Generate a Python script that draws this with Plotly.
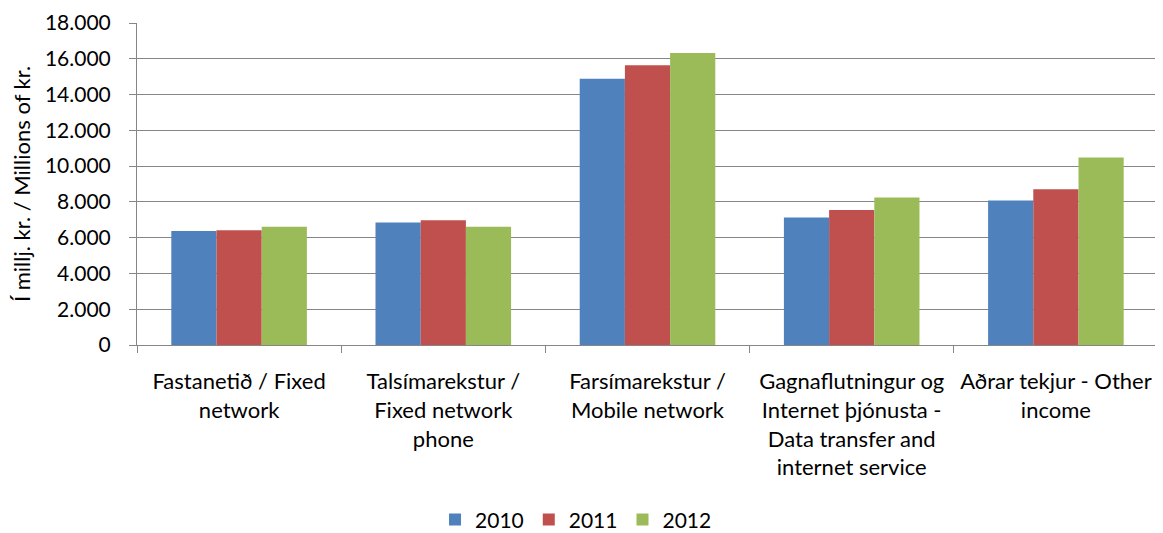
import plotly.graph_objects as go

categories = [
    "Fastanetið / Fixed<br>network",
    "Talsímarekstur /<br>Fixed network<br>phone",
    "Farsímarekstur /<br>Mobile network",
    "Gagnaflutningur og<br>Internet þjónusta -<br>Data transfer and<br>internet service",
    "Aðrar tekjur - Other<br>income",
]
years = ["2010", "2011", "2012"]
v2010 = [6370, 6850, 14890, 7130, 8080]
v2011 = [6420, 6980, 15640, 7540, 8700]
v2012 = [6610, 6610, 16320, 8250, 10480]
colors = ["#4F81BD", "#C0504D", "#9BBB59"]
tickvals = [0, 2000, 4000, 6000, 8000, 10000, 12000, 14000, 16000, 18000]

FONT = "Lato"
fig = go.Figure()
for name, vals, c in zip(years, [v2010, v2011, v2012], colors):
    fig.add_trace(go.Bar(x=categories, y=vals, name=name, marker_color=c,
                         marker_line_width=0))

fig.update_layout(
    width=1155, height=525,
    margin=dict(l=129, r=5, t=15, b=188, autoexpand=False),
    paper_bgcolor="white", plot_bgcolor="white",
    separators=",.",
    barmode="group", bargap=0.336, bargroupgap=0,
    font=dict(family=FONT, size=21, color="#000000"),
    showlegend=True,
    legend=dict(orientation="h", x=0.43, xanchor="center",
                yref="container", y=0.025, yanchor="middle",
                font=dict(size=21), itemwidth=30, traceorder="normal"),
    yaxis=dict(
        range=[0, 18000], tickvals=tickvals, tickformat=",",
        showgrid=True, gridcolor="#868686", gridwidth=1,
        showline=True, linecolor="#868686", linewidth=1,
        ticks="outside", ticklen=7, tickcolor="#868686",
        zeroline=False, automargin=False,
        tickfont=dict(size=21), ticklabelstandoff=14,
        title=dict(text="Í millj. kr. / Millions of kr.", font=dict(size=22), standoff=14),
    ),
    xaxis=dict(
        showline=True, linecolor="#868686", linewidth=1,
        ticks="outside", ticklen=7, tickcolor="#868686", tickson="boundaries",
        tickangle=0, automargin=False,
        tickfont=dict(size=22), ticklabelstandoff=17,
    ),
)
fig.write_html("out.html")
